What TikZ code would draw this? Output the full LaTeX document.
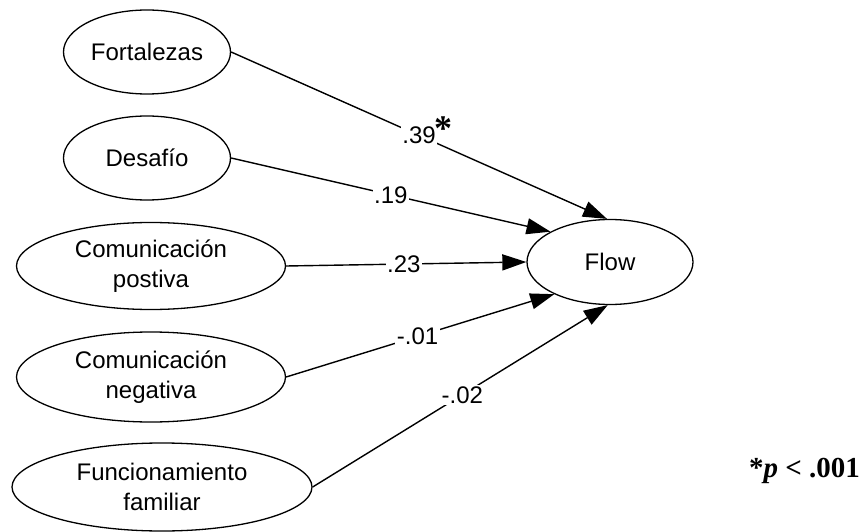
\documentclass[tikz,border=0pt]{standalone}
\usepackage{fontspec}
\setmainfont{Liberation Sans}
\newfontfamily\notefont{Liberation Serif}
\usetikzlibrary{shapes.geometric,arrows.meta}

\begin{document}
\begin{tikzpicture}[x=1pt,y=1pt,
  latent/.style={ellipse,draw,line width=1.3pt,inner sep=0pt,align=center,
    font=\fontsize{24}{30}\selectfont},
  path/.style={line width=1.4pt,-{Triangle[length=24pt,width=16pt]}},
  coef/.style={fill=white,inner sep=1.5pt,font=\fontsize{24}{26}\selectfont}]
\useasboundingbox (0,0) rectangle (867,531);

% exogenous variables
\node[latent,minimum width=167pt,minimum height=84pt] (fort) at (147,479) {Fortalezas};
\node[latent,minimum width=167pt,minimum height=84pt] (desa) at (147,373) {Desafío};
\node[latent,minimum width=269pt,minimum height=87pt] (cpos) at (151,265) {Comunicación\\postiva};
\node[latent,minimum width=269pt,minimum height=90pt] (cneg) at (151,154) {Comunicación\\negativa};
\node[latent,minimum width=300pt,minimum height=88pt] (func) at (162,44) {Funcionamiento\\familiar};

% outcome
\node[latent,minimum width=166pt,minimum height=85pt] (flow) at (610,269) {Flow};

% standardized paths
\draw[path] (fort.east) -- node[coef,pos=0.5] (c1) {.39} (flow.94);
\draw[path] (desa.east) -- node[coef,pos=0.5] (c2) {.19} (flow.153);
\draw[path] (cpos.east) -- node[coef,pos=0.49] (c3) {.23} (flow.180);
\draw[path] (cneg.east) -- node[coef,pos=0.49] (c4) {-.01} (flow.210);
\draw[path] (func.east) -- node[coef,pos=0.507] (c5) {-.02} (flow.267);

% significance mark
\node[inner sep=0pt,anchor=base] (star) at (443,390) {\notefont\bfseries\fontsize{36}{36}\selectfont *};

% note
\node[anchor=base east,inner sep=0pt] (note) at (860,54)
  {\notefont\bfseries\fontsize{29}{32}\selectfont *\textit{p} < .001};
\end{tikzpicture}
\end{document}
